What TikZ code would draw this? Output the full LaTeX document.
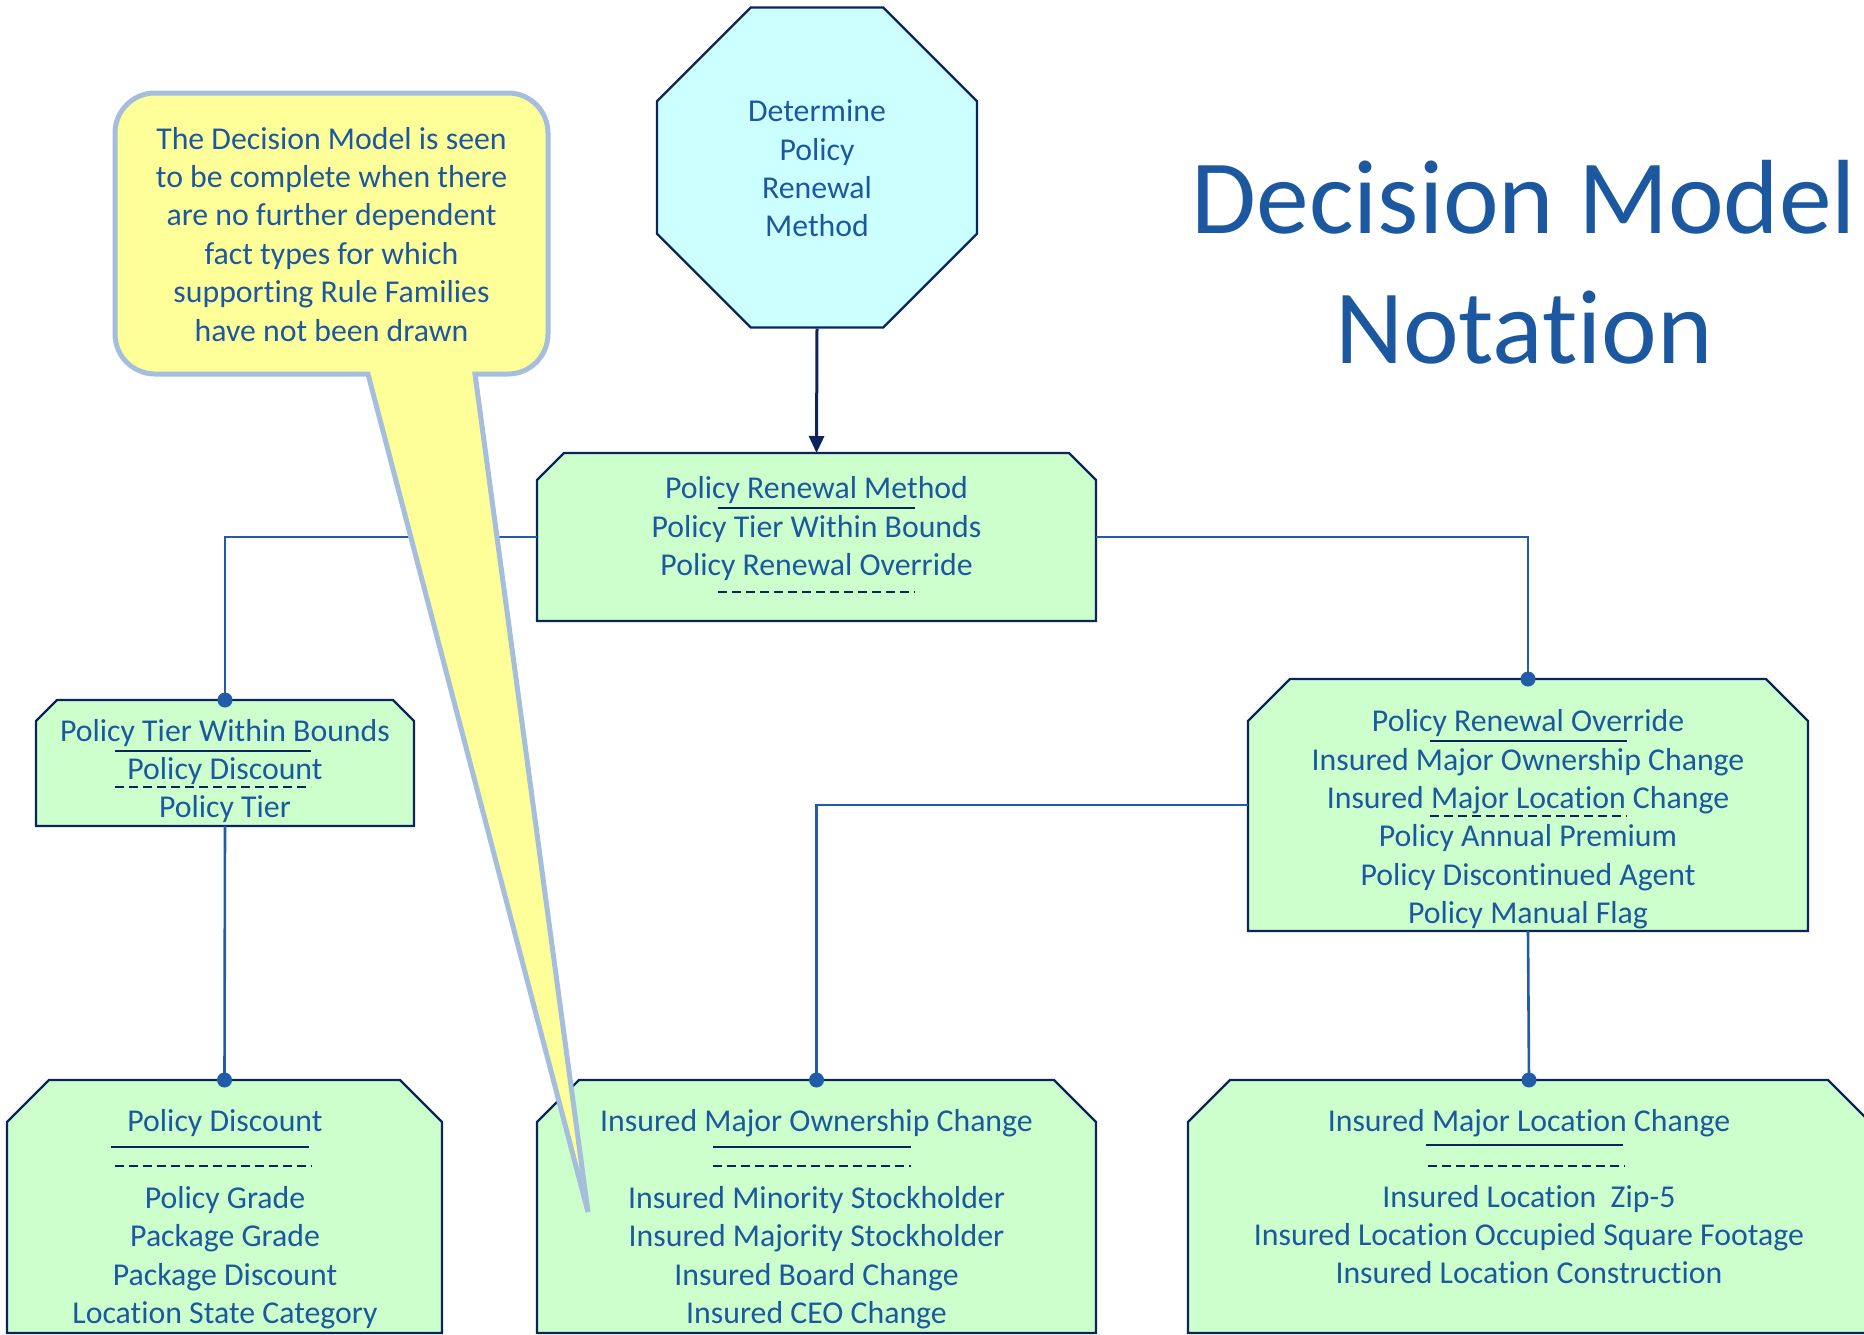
\documentclass[tikz,border=0pt]{standalone}
\usepackage{fontspec}
\setmainfont[RawFeature={-liga;-clig;-dlig;-calt}]{Carlito}
\usetikzlibrary{arrows.meta,shapes.geometric}

\definecolor{inkblue}{RGB}{28,88,160}
\definecolor{navy}{RGB}{12,36,92}
\definecolor{linkblue}{RGB}{32,92,168}
\definecolor{rulegreen}{HTML}{CCFFCC}
\definecolor{goalcyan}{HTML}{CCFFFF}
\definecolor{noteyellow}{HTML}{FFFF99}
\definecolor{noteedge}{RGB}{165,190,220}

\tikzset{
  area/.style={inner sep=0pt, outer sep=0pt},
  boxedge/.style={draw=navy, fill=rulegreen, line width=2.2pt, line join=miter},
  txt/.style={anchor=base, inner sep=0pt, outer sep=0pt, text=inkblue,
              font=\fontsize{31.8}{38}\selectfont},
  headline/.style={anchor=base, inner sep=0pt, outer sep=0pt, text=inkblue,
              font=\fontsize{105.5}{128}\selectfont},
  link/.style={draw=linkblue, line width=2.6pt},
  solidrule/.style={draw=navy, line width=2.2pt},
  dashrule/.style={draw=navy, line width=2.2pt, dash pattern=on 9pt off 5pt},
  note/.style={draw=noteedge, fill=noteyellow, line width=5pt, line join=miter},
}

% rule family box with chamfered upper corners, drawn on a named area node
\newcommand\chambox[2]{%
  \draw[boxedge] (#1.south west) -- ([yshift=-#2pt]#1.north west)
    -- ([xshift=#2pt]#1.north west) -- ([xshift=-#2pt]#1.north east)
    -- ([yshift=-#2pt]#1.north east) -- (#1.south east) -- cycle;}

% centred lines of text, one named node per line, baselines 38.4 apart
\newcommand\stack[4]{%
  \foreach \entry [count=\i] in {#4}{%
    \node[txt] (#1-\i) at (#2,{#3+(\i-1)*38.4}) {\entry};}}

\begin{document}
\begin{tikzpicture}[x=1pt,y=-1pt]
\useasboundingbox (0,0) rectangle (1864,1334);
\clip (0,0) rectangle (1864,1334);

% decision (octagon)
\node[regular polygon, regular polygon sides=8, minimum size=346.4pt,
      inner sep=0pt, draw=navy, fill=goalcyan, line width=2.2pt] (goal) at (817,167.5) {};
\stack{goaltext}{817}{121.7}{Determine,Policy,Renewal,Method}

% rule family boxes
\node[area, minimum width=559pt, minimum height=168pt] (prm) at (816.5,537) {};
\chambox{prm}{27}
\node[area, minimum width=378pt, minimum height=126pt] (ptwb) at (225,763) {};
\chambox{ptwb}{21}
\node[area, minimum width=560pt, minimum height=252pt] (pro) at (1528,805) {};
\chambox{pro}{42}
\node[area, minimum width=435pt, minimum height=253pt] (pd) at (224.5,1206.5) {};
\chambox{pd}{42}
\node[area, minimum width=559pt, minimum height=253pt] (imoc) at (816.5,1206.5) {};
\chambox{imoc}{42}
\node[area, minimum width=682pt, minimum height=253pt] (imlc) at (1529,1206.5) {};
\chambox{imlc}{42}

% connectors
\draw[navy, line width=3pt, -{Triangle[length=17pt,width=15pt]}] (goal.south) -- (prm.north);
\draw[link] (prm.west) -| (ptwb.north);
\draw[link] (prm.east) -| (pro.north);
\draw[link] (pro.west) -| (imoc.north);
\draw[link] (ptwb.south) -- (pd.north);
\draw[link] (pro.south) -- (imlc.north);
\foreach \n in {ptwb,pro,pd,imoc,imlc}
  \fill[linkblue] (\n.north) circle[radius=7.5];

% box contents
\stack{prmtext}{816.5}{498.7}{Policy Renewal Method,Policy Tier Within Bounds,Policy Renewal Override}
\draw[solidrule] (718,508) -- (915,508);
\draw[dashrule] (718,592) -- (915,592);

\stack{ptwbtext}{225}{741}{Policy Tier Within Bounds,Policy Discount,Policy Tier}
\draw[solidrule] (115,751) -- (311,751);
\draw[dashrule] (115,787) -- (311,787);

\stack{protext}{1528}{731.7}{Policy Renewal Override,Insured Major Ownership Change,Insured Major Location Change,Policy Annual Premium,Policy Discontinued Agent,Policy Manual Flag}
\draw[solidrule] (1430,741) -- (1627,741);
\draw[dashrule] (1430,816) -- (1627,816);

\stack{pdhead}{225}{1131}{Policy Discount}
\stack{pdtext}{225}{1208.5}{Policy Grade,Package Grade,Package Discount,Location State Category}
\draw[solidrule] (111,1147) -- (309,1147);
\draw[dashrule] (115,1166) -- (312,1166);

\stack{imochead}{816.5}{1131}{Insured Major Ownership Change}
\stack{imoctext}{816.5}{1208.5}{Insured Minority Stockholder,Insured Majority Stockholder,Insured Board Change,Insured CEO Change}
\draw[solidrule] (713,1147) -- (911,1147);
\draw[dashrule] (713,1166) -- (911,1166);

\stack{imlchead}{1529}{1131}{Insured Major Location Change}
\stack{imlctext}{1529}{1207}{Insured Location~ Zip-5,Insured Location Occupied Square Footage,Insured Location Construction}
\draw[solidrule] (1426,1145) -- (1623,1145);
\draw[dashrule] (1428,1166) -- (1625,1166);

% callout with pointer
\draw[note] (155,93) -- (508,93) arc[start angle=-90,end angle=0,radius=40]
  -- (548,334) arc[start angle=0,end angle=90,radius=40]
  -- (475,374) -- (588,1212) -- (368,374)
  -- (155,374) arc[start angle=90,end angle=180,radius=40]
  -- (115,133) arc[start angle=180,end angle=270,radius=40] -- cycle;
\stack{notetext}{331.5}{149}{The Decision Model is seen,to be complete when there,are no further dependent,fact types for which,supporting Rule Families,have not been drawn}

% heading
\node[headline] (title1) at (1524,233) {Decision Model};
\node[headline] (title2) at (1524,363) {Notation};
\end{tikzpicture}
\end{document}
